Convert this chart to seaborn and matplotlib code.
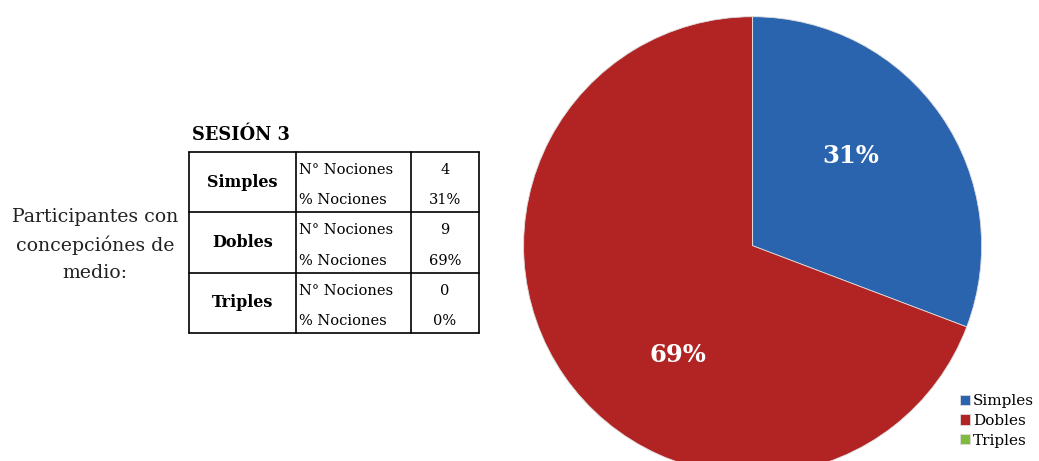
import numpy as np
import matplotlib
matplotlib.use("Agg")
import matplotlib.pyplot as plt
import seaborn as sns

# ---- data ----
categories = ["Simples", "Dobles", "Triples"]
counts = [4, 9, 0]
percents = ["31%", "69%", "0%"]
row_labels = ["N° Nociones", "% Nociones"]
session_title = "SESIÓN 3"
side_text = "Participantes con\nconcepciónes de\nmedio:"

sns.set_theme(style="white")
plt.rcParams["font.family"] = ["DejaVu Serif"]
plt.rcParams["text.color"] = "black"
colors = ["#2a63ae", "#b22424", "#80bb3f"]

fig = plt.figure(figsize=(10.39, 4.61), dpi=100)
W, H = 1039, 461

# ---- pie ----
cx, cy, r = 752.6, 245.7, 229
pax = fig.add_axes([(cx - r) / W, (H - cy - r) / H, 2 * r / W, 2 * r / H])
wedges, _, autotexts = pax.pie(
    counts, colors=colors, startangle=90, counterclock=False,
    autopct=lambda p: f"{p:.0f}%" if p > 0 else "", pctdistance=0.57,
    wedgeprops=dict(linewidth=0.6, edgecolor="#dddddd"),
    textprops=dict(color="white", fontsize=17.5, fontweight="bold"))
pax.set_xlim(-1, 1)
pax.set_ylim(-1, 1)
pax.set_aspect("auto")
# shift label angles toward the Excel placement
offsets = [8, 21, 0]
for w, t, off in zip(wedges, autotexts, offsets):
    ang = np.deg2rad((w.theta1 + w.theta2) / 2 + off)
    t.set_position((0.58 * np.cos(ang), 0.58 * np.sin(ang)))
pax.axis("off")

fig.legend(wedges, categories, loc="upper left",
           bbox_to_anchor=(960 / W, 1 - 394 / H), frameon=False,
           handlelength=0.65, handleheight=0.65, handletextpad=0.2,
           labelspacing=0.38, fontsize=11, borderpad=0, borderaxespad=0)

# ---- table ----
tl, tr, tt, tb = 189, 479, 152, 333
tax = fig.add_axes([tl / W, 1 - tb / H, (tr - tl) / W, (tb - tt) / H])
tax.set_xlim(0, tr - tl)
tax.set_ylim(6, 0)
tax.axis("off")
cols = [0, 107, 222, tr - tl]
lw = 1.2
for x in cols:
    tax.plot([x, x], [0, 6], color="black", lw=lw, clip_on=False)
for y in [0, 2, 4, 6]:
    tax.plot([0, tr - tl], [y, y], color="black", lw=lw, clip_on=False)
for i, cat in enumerate(categories):
    tax.text((cols[0] + cols[1]) / 2, 2 * i + 1, cat, ha="center", va="center",
             fontsize=11.5, fontweight="bold")
    vals = [str(counts[i]), percents[i]]
    for j in range(2):
        y = 2 * i + j + 0.6
        tax.text(cols[1] + 3, y, row_labels[j], ha="left", va="center", fontsize=10.5)
        tax.text((cols[2] + cols[3]) / 2, y, vals[j], ha="center", va="center", fontsize=10.5)

fig.text(192 / W, 1 - 135 / H, session_title, ha="left", va="center",
         fontsize=12.8, fontweight="bold")
fig.text(95 / W, 1 - 245 / H, side_text, ha="center", va="center",
         fontsize=13.6, linespacing=1.6, color="#222222")

fig.savefig("out.png", dpi=100, facecolor="white")
